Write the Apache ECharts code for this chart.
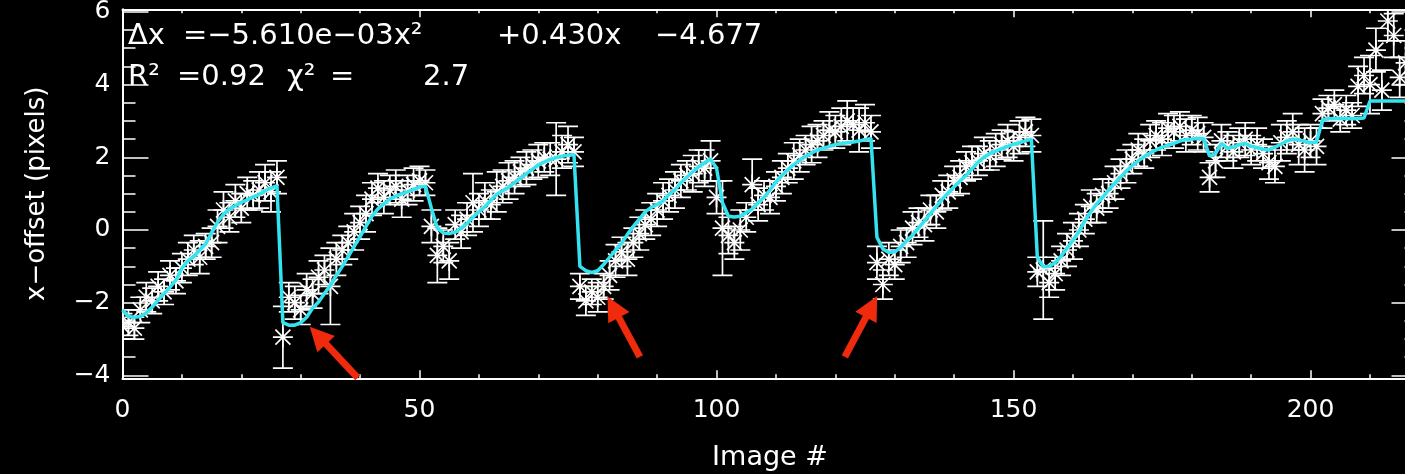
<!DOCTYPE html>
<html>
<head>
<meta charset="utf-8">
<script src="https://cdn.jsdelivr.net/npm/echarts@6/dist/echarts.min.js"></script>
<style>
html,body{margin:0;padding:0;background:#000;}
#chart{width:1405px;height:474px;}
</style>
</head>
<body>
<div id="chart"></div>
<script>
// ---------------- data ----------------
const imageNum = [
  0,1,2,3,4,5,6,7,8,9,10,11,12,13,14,15,16,17,18,19,
  20,21,22,23,24,25,26,27,28,29,30,31,32,33,34,35,36,37,38,39,
  40,41,42,43,44,45,46,47,48,49,50,51,52,53,54,55,56,57,58,59,
  60,61,62,63,64,65,66,67,68,69,70,71,72,73,74,75,76,77,78,79,
  80,81,82,83,84,85,86,87,88,89,90,91,92,93,94,95,96,97,98,99,
  100,101,102,103,104,105,106,107,108,109,110,111,112,113,114,115,116,117,118,119,
  120,121,122,123,124,125,126,127,128,129,130,131,132,133,134,135,136,137,138,139,
  140,141,142,143,144,145,146,147,148,149,150,151,152,153,154,155,156,157,158,159,
  160,161,162,163,164,165,166,167,168,169,170,171,172,173,174,175,176,177,178,179,
  180,181,182,183,184,185,186,187,188,189,190,191,192,193,194,195,196,197,198,199,
  200,201,202,203,204,205,206,207,208,209,210,211,212,213,214,215,216
];
const xOffset = [
  -2.65,-2.55,-2.70,-2.20,-1.85,-1.95,-1.55,-1.70,-1.25,-1.40,-1.05,-0.80,-0.55,-0.75,-0.45,-0.35,0.10,0.55,0.35,0.80,
  0.60,1.00,0.95,1.10,1.30,1.05,1.45,-2.95,-1.85,-2.00,-2.20,-1.65,-1.75,-1.30,-1.10,-1.55,-0.80,-0.55,-0.35,-0.05,
  0.20,0.45,0.85,1.15,0.90,1.10,1.20,0.85,1.10,1.25,1.35,1.30,0.10,-0.70,-0.45,-0.85,0.15,-0.05,0.30,0.75,
  0.55,0.80,0.70,1.05,1.20,1.35,1.45,1.60,1.70,1.80,1.90,2.00,1.95,1.95,2.15,2.35,2.15,-1.55,-1.95,-1.70,
  -1.85,-1.55,-1.25,-0.85,-0.60,-0.80,-0.35,-0.10,0.15,0.30,0.55,0.80,0.95,1.10,1.35,1.50,1.55,1.75,1.70,1.90,
  0.90,0.05,-0.15,-0.35,0.00,0.35,1.25,0.70,0.95,0.90,1.20,1.45,1.70,1.90,2.05,2.20,2.35,2.45,2.60,2.75,
  2.70,2.85,3.00,2.90,2.75,2.95,2.70,-0.90,-1.50,-0.80,-0.95,-0.45,-0.35,0.05,0.20,0.15,0.55,0.50,0.95,1.05,
  1.35,1.45,1.75,1.85,1.90,2.10,2.05,2.20,2.35,2.45,2.30,2.55,2.70,2.60,-1.15,-1.10,-1.45,-1.20,-0.85,-0.55,
  -0.30,0.00,0.30,0.65,0.60,0.95,1.00,1.30,1.55,1.75,1.95,2.20,2.10,2.45,2.60,2.50,2.80,2.70,2.85,2.60,
  2.75,2.65,2.55,1.45,1.90,2.45,2.30,2.15,2.40,2.50,2.20,2.35,2.10,1.85,1.75,2.40,2.55,2.70,2.35,2.20,
  2.45,2.30,3.20,3.35,3.45,3.05,3.30,3.15,3.95,4.25,4.00,4.95,3.85,5.75,5.35,4.20,4.60
];
const xOffsetErr = [
  0.35,0.35,0.30,0.35,0.40,0.35,0.40,0.35,0.40,0.35,0.40,0.45,0.40,0.45,0.35,0.40,0.45,0.50,0.40,0.45,
  0.40,0.45,0.40,0.50,0.50,0.55,0.45,0.85,0.40,0.45,0.40,0.45,0.40,0.45,0.40,1.05,0.45,0.40,0.45,0.50,
  0.45,0.50,0.45,0.40,0.45,0.40,0.45,0.50,0.40,0.45,0.40,0.35,0.45,0.75,0.45,0.50,0.40,0.45,0.45,0.80,
  0.45,0.50,0.40,0.55,0.45,0.50,0.45,0.40,0.45,0.40,0.45,0.40,0.45,1.00,0.45,0.50,0.40,0.35,0.40,0.35,
  0.40,0.35,0.40,0.45,0.40,0.45,0.40,0.45,0.40,0.45,0.45,0.50,0.45,0.50,0.45,0.40,0.50,0.45,0.50,0.55,
  0.45,1.30,0.50,0.45,0.55,0.40,0.70,0.45,0.40,0.45,0.40,0.45,0.40,0.50,0.45,0.40,0.50,0.45,0.40,0.50,
  0.45,0.50,0.55,0.45,0.60,0.50,0.45,0.45,0.40,0.45,0.40,0.45,0.40,0.45,0.40,0.45,0.40,0.45,0.40,0.45,
  0.40,0.45,0.40,0.45,0.40,0.45,0.40,0.45,0.40,0.45,0.40,0.45,0.40,0.45,0.40,1.35,0.40,0.45,0.40,0.45,
  0.50,0.45,0.40,0.45,0.40,0.45,0.40,0.45,0.40,0.45,0.40,0.45,0.40,0.45,0.40,0.45,0.40,0.45,0.40,0.45,
  0.40,0.45,0.40,0.40,0.45,0.45,0.40,0.45,0.40,0.45,0.40,0.45,0.40,0.45,0.45,0.50,0.45,0.50,0.55,0.60,
  0.45,0.50,0.40,0.35,0.40,0.35,0.40,0.35,0.55,0.50,0.80,0.60,0.55,0.55,0.60,0.55,0.60
];
const fitImage = [
  0,1,2,3,4,5,6,7,8,9,10,11,12,13,14,15,16,17,18,19,
  20,21,22,23,24,25,26,27,28,29,30,31,32,33,34,35,36,37,38,39,
  40,41,42,43,44,45,46,47,48,49,50,51,52,53,54,55,56,57,58,59,
  60,61,62,63,64,65,66,67,68,69,70,71,72,73,74,75,76,77,78,79,
  80,81,82,83,84,85,86,87,88,89,90,91,92,93,94,95,96,97,98,99,
  100,101,102,103,104,105,106,107,108,109,110,111,112,113,114,115,116,117,118,119,
  120,121,122,123,124,125,126,127,128,129,130,131,132,133,134,135,136,137,138,139,
  140,141,142,143,144,145,146,147,148,149,150,151,152,153,154,155,156,157,158,159,
  160,161,162,163,164,165,166,167,168,169,170,171,172,173,174,175,176,177,178,179,
  180,181,182,183,184,185,186,187,188,189,190,191,192,193,194,195,196,197,198,199,
  200,201,202,203,204,205,206,207,208,209,210,211,212,213,214,215,216,217,218
];
const fitOffset = [
  -2.20,-2.38,-2.40,-2.38,-2.28,-2.12,-1.93,-1.75,-1.57,-1.38,-1.05,-0.85,-0.73,-0.55,-0.38,-0.08,0.22,0.43,0.58,0.67,
  0.76,0.83,0.91,0.98,1.08,1.15,1.22,-2.55,-2.62,-2.62,-2.55,-2.40,-2.15,-1.98,-1.75,-1.52,-1.25,-1.00,-0.73,-0.45,
  -0.18,0.10,0.38,0.58,0.72,0.85,0.93,1.00,1.05,1.12,1.18,1.20,0.60,0.05,-0.08,-0.10,-0.06,0.05,0.18,0.35,
  0.50,0.64,0.82,0.98,1.08,1.17,1.30,1.43,1.55,1.67,1.79,1.87,1.94,1.99,2.03,2.06,2.07,-1.00,-1.12,-1.17,
  -1.12,-0.95,-0.75,-0.55,-0.37,-0.12,0.10,0.30,0.50,0.62,0.70,0.80,0.98,1.10,1.30,1.45,1.60,1.74,1.85,1.95,
  1.70,0.75,0.38,0.36,0.38,0.48,0.58,0.75,0.90,1.10,1.32,1.50,1.66,1.80,1.92,2.03,2.12,2.20,2.25,2.30,
  2.35,2.38,2.40,2.42,2.45,2.48,2.52,-0.20,-0.52,-0.62,-0.60,-0.48,-0.30,-0.14,0.05,0.25,0.45,0.65,0.85,1.02,
  1.19,1.35,1.50,1.68,1.86,2.00,2.10,2.17,2.24,2.30,2.36,2.40,2.45,2.50,-0.75,-1.01,-1.00,-0.90,-0.72,-0.50,
  -0.28,-0.05,0.25,0.50,0.72,0.90,1.10,1.28,1.45,1.62,1.78,1.90,2.02,2.12,2.20,2.28,2.33,2.38,2.45,2.48,
  2.50,2.52,2.52,2.03,2.10,2.38,2.25,2.28,2.35,2.38,2.30,2.27,2.22,2.20,2.28,2.36,2.45,2.50,2.48,2.44,
  2.40,2.42,3.03,3.06,3.07,3.07,3.07,3.06,3.07,3.08,3.55,3.55,3.55,3.55,3.55,3.55,3.55,3.55,3.55
];
const xTickLabels = [0, 50, 100, 150, 200];
const yTickLabels = [-4, -2, 0, 2, 4, 6];
const arrowTail = [[39.6, -4.07], [87.1, -3.49], [121.6, -3.49]];
const arrowHead = [[32.9, -2.90], [82.6, -2.12], [126.1, -2.11]];
const fitLineTexts = ['\u0394x', '=\u22125.610e\u221203x\u00b2', '+0.430x', '\u22124.677'];
const statLineTexts = ['R\u00b2', '=0.92', '\u03c7\u00b2', '=', '2.7'];
const xAxisTitle = 'Image #';
const yAxisTitle = 'x\u2212offset (pixels)';

// ---------------- chart ----------------
const FONT = '"DejaVu Sans", "Liberation Sans", sans-serif';
const WHITE = '#ffffff';
const X_MIN = 0, X_MAX = 218, Y_MIN = -4.08, Y_MAX = 6.07;

const points = imageNum.map((v, i) => [v, xOffset[i], xOffsetErr[i]]);
const fitLine = fitImage.map((v, i) => [v, fitOffset[i]]);

function renderPoint(params, api) {
  const x = api.value(0), y = api.value(1), e = api.value(2);
  const c = api.coord([x, y]);
  const t = api.coord([x, y + e]);
  const b = api.coord([x, y - e]);
  const cap = 10, r = 10, d = 7.5;
  const L = (x1, y1, x2, y2) => ({
    type: 'line', shape: { x1, y1, x2, y2 },
    style: { stroke: WHITE, lineWidth: 1.7 }
  });
  return {
    type: 'group',
    children: [
      L(c[0], t[1], c[0], b[1]),
      L(c[0] - cap, t[1], c[0] + cap, t[1]),
      L(c[0] - cap, b[1], c[0] + cap, b[1]),
      L(c[0] - r, c[1], c[0] + r, c[1]),
      L(c[0], c[1] - r, c[0], c[1] + r),
      L(c[0] - d, c[1] - d, c[0] + d, c[1] + d),
      L(c[0] - d, c[1] + d, c[0] + d, c[1] - d)
    ]
  };
}

function xAxisDef(position, interval, tickLen, showLine, showLabel) {
  return {
    type: 'value', position, min: X_MIN, max: X_MAX, interval,
    axisLine: { show: showLine, onZero: false, lineStyle: { color: WHITE, width: 2 } },
    axisTick: { show: true, inside: true, length: tickLen, lineStyle: { color: WHITE, width: 1.5 } },
    axisLabel: showLabel ? {
      show: true, color: WHITE, fontFamily: FONT, fontSize: 25, margin: 20,
      showMaxLabel: false,
      formatter: v => xTickLabels.indexOf(v) >= 0 ? String(v) : ''
    } : { show: false },
    splitLine: { show: false }
  };
}
function yAxisDef(position, splitNumber, tickLen, showLine, showLabel) {
  return {
    type: 'value', position, min: Y_MIN, max: Y_MAX, splitNumber,
    axisLine: { show: showLine, onZero: false, lineStyle: { color: WHITE, width: 2 } },
    axisTick: { show: tickLen > 0, inside: true, length: tickLen, lineStyle: { color: WHITE, width: 1.5 } },
    axisLabel: showLabel ? {
      show: true, color: WHITE, fontFamily: FONT, fontSize: 25, margin: 12,
      showMinLabel: false, showMaxLabel: false,
      formatter: v => yTickLabels.indexOf(v) >= 0 ? String(v).replace('-', '\u2212') : ''
    } : { show: false },
    splitLine: { show: false }
  };
}

const xAxes = [
  xAxisDef('bottom', 50, 8, true, true),
  xAxisDef('bottom', 10, 4, false, false),
  xAxisDef('top', 50, 8, true, false),
  xAxisDef('top', 10, 4, false, false)
];
Object.assign(xAxes[0], {
  name: xAxisTitle, nameLocation: 'middle', nameGap: 66,
  nameTextStyle: { color: WHITE, fontFamily: FONT, fontSize: 27 }
});
const yAxes = [
  yAxisDef('left', 5, 26, true, true),
  yAxisDef('left', 20, 13, false, false),
  yAxisDef('right', 5, 26, true, false),
  yAxisDef('right', 20, 13, false, false)
];
Object.assign(yAxes[0], {
  name: yAxisTitle, nameLocation: 'middle', nameGap: 72, nameRotate: 90,
  nameTextStyle: { color: WHITE, fontFamily: FONT, fontSize: 26 }
});

const fitX = [128, 183, 497, 655];
const statX = [128, 177, 287, 330, 423];
const graphics = [];
fitLineTexts.forEach((t, i) => graphics.push({
  type: 'text', x: fitX[i], y: 36, z: 100,
  style: { text: t, fill: WHITE, font: '29px ' + FONT, verticalAlign: 'middle' }
}));
statLineTexts.forEach((t, i) => graphics.push({
  type: 'text', x: statX[i], y: 77, z: 100,
  style: { text: t, fill: WHITE, font: '29px ' + FONT, verticalAlign: 'middle' }
}));

const chart = echarts.init(document.getElementById('chart'), null, { renderer: 'canvas' });
chart.setOption({
  backgroundColor: '#000000',
  animation: false,
  grid: { left: 122.5, width: 1295, top: 9.35, height: 368.95, containLabel: false, outerBoundsMode: 'none' },
  xAxis: xAxes,
  yAxis: yAxes,
  graphic: graphics,
  series: [
    {
      type: 'custom', xAxisIndex: 0, yAxisIndex: 0,
      data: points, encode: { x: 0, y: 1 },
      renderItem: renderPoint, clip: true, z: 2, silent: true
    },
    {
      type: 'line', xAxisIndex: 0, yAxisIndex: 0,
      data: fitLine, symbol: 'none', showSymbol: false, clip: true, z: 3,
      lineStyle: { color: '#33e3f0', width: 3.5 },
      silent: true
    },
    {
      type: 'line', xAxisIndex: 0, yAxisIndex: 0, data: [], z: 5, silent: true,
      markLine: {
        silent: true, animation: false,
        symbol: ['none', 'triangle'], symbolSize: 24,
        lineStyle: { color: '#f02a0c', width: 7, type: 'solid' },
        itemStyle: { color: '#f02a0c' },
        label: { show: false },
        emphasis: { disabled: true },
        data: arrowTail.map((p, i) => [{ coord: p }, { coord: arrowHead[i] }])
      }
    }
  ]
});
</script>
</body>
</html>
